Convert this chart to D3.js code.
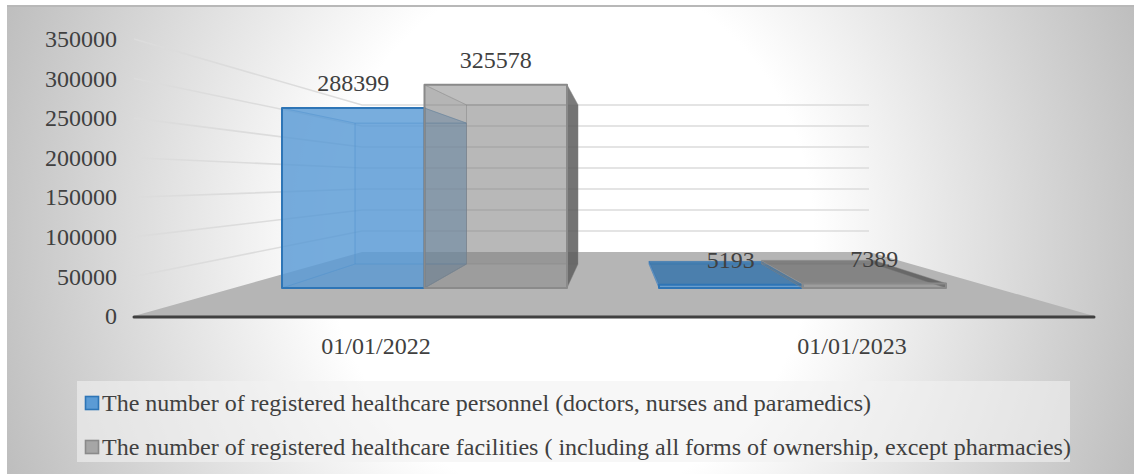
<!DOCTYPE html>
<html>
<head>
<meta charset="utf-8">
<script src="https://cdn.jsdelivr.net/npm/d3@7"></script>
<style>
  body { margin: 0; background: #fff; }
  text { font-family: "Liberation Serif", serif; fill: #404040; }
</style>
</head>
<body>
<div id="canvas"></div>
<script>
const categories = ['01/01/2022', '01/01/2023'];
const seriesNames = [
  'The number of registered healthcare personnel (doctors, nurses and paramedics)',
  'The number of registered healthcare facilities ( including all forms of ownership, except pharmacies)',
];
const personnel = [288399, 5193];
const facilities = [325578, 7389];
const yTicks = [0, 50000, 100000, 150000, 200000, 250000, 300000, 350000];

const width = 1134;
const height = 475;
const maxV = 350000;

const svg = d3
  .select('#canvas')
  .append('svg')
  .attr('width', width)
  .attr('height', height)
  .style('display', 'block');

const defs = svg.append('defs');
const bg = defs
  .append('radialGradient')
  .attr('id', 'bg')
  .attr('gradientUnits', 'userSpaceOnUse')
  .attr('cx', 0)
  .attr('cy', 0)
  .attr('r', 1)
  .attr('gradientTransform', 'translate(570, 235) scale(640, 700)');
bg.append('stop').attr('offset', '38%').attr('stop-color', '#ffffff');
bg.append('stop').attr('offset', '100%').attr('stop-color', '#b7b7b7');

svg
  .append('rect')
  .attr('x', 7)
  .attr('y', 6)
  .attr('width', 1127)
  .attr('height', 468)
  .attr('fill', 'url(#bg)');
svg
  .append('line')
  .attr('x1', 7)
  .attr('x2', 1134)
  .attr('y1', 6)
  .attr('y2', 6)
  .attr('stroke', '#b8b8b8')
  .attr('stroke-width', 2);

// 앞면, 뒷면 스케일 (3D 원근)
const wallFront = d3.scaleLinear().domain([0, maxV]).range([316, 39]);
const wallBack = d3.scaleLinear().domain([0, maxV]).range([252, 105]);
const barFront = d3.scaleLinear().domain([0, maxV]).range([288, 69.6]);
const barBack = d3.scaleLinear().domain([0, maxV]).range([264, 93]);

const floorX = { frontL: 134, frontR: 1094, backL: 362, backR: 869 };

const polyPath = d3.line();

// floor
svg
  .append('path')
  .attr(
    'd',
    polyPath([
      [floorX.frontL, wallFront(0)],
      [floorX.frontR, wallFront(0)],
      [floorX.backR, wallBack(0)],
      [floorX.backL, wallBack(0)],
    ]) + 'Z'
  )
  .attr('fill', '#b5b5b5');

// gridlines
svg
  .selectAll('.grid')
  .data(yTicks.slice(1))
  .enter()
  .append('path')
  .attr('class', 'grid')
  .attr('d', d =>
    polyPath([
      [floorX.frontL, wallFront(d)],
      [floorX.backL, wallBack(d)],
      [floorX.backR, wallBack(d)],
    ])
  )
  .attr('fill', 'none')
  .attr('stroke', '#dcdcdc')
  .attr('stroke-width', 1.6);

// y axis labels
const yAxis = d3
  .axisLeft(wallFront)
  .tickValues(yTicks)
  .tickSize(0)
  .tickPadding(0)
  .tickFormat(d3.format('d'));
const yAxisGroup = svg
  .append('g')
  .attr('transform', 'translate(117, 0)')
  .call(yAxis);
yAxisGroup.select('.domain').remove();
yAxisGroup
  .selectAll('text')
  .style('font-family', '"Liberation Serif", serif')
  .style('font-size', '24px')
  .style('fill', '#404040');

// bars
const frontBands = [
  d3.scaleBand().domain([0, 1]).range([282, 567]),
  d3.scaleBand().domain([0, 1]).range([659, 946]),
];
const backBands = [
  d3.scaleBand().domain([0, 1]).range([355, 578]),
  d3.scaleBand().domain([0, 1]).range([649, 874]),
];

const seriesStyle = [
  {
    edge: '#2e75b6',
    shortTop: ['#2e6fa8', 0.7],
    faces: { back: ['#5b9bd5', 0.5], left: ['#5b9bd5', 0.45], right: ['#5b9bd5', 0.2], bottom: ['#3f7fbd', 0.3], top: ['#5b9bd5', 0.4], front: ['#5b9bd5', 0.7] },
  },
  {
    edge: '#8a8a8a',
    shortTop: ['#666666', 0.6],
    faces: { back: ['#7f7f7f', 0.27], left: ['#6f6f6f', 0.28], right: ['#5a5a5a', 0.8], bottom: ['#7f7f7f', 0.06], top: ['#7f7f7f', 0.2], front: ['#7f7f7f', 0.38] },
  },
];

const barData = [];
categories.forEach((c, ci) => {
  [personnel, facilities].forEach((values, si) => {
    barData.push({ ci, si, value: values[ci] });
  });
});

function barFaces(d) {
  const f = frontBands[d.ci];
  const b = backBands[d.ci];
  const fl = f(d.si);
  const fr = fl + f.bandwidth();
  const bl = b(d.si);
  const br = bl + b.bandwidth();
  const y0f = barFront(0);
  const y1f = barFront(d.value);
  const y0b = barBack(0);
  const y1b = barBack(d.value);
  return [
    ['back', [[bl, y1b], [br, y1b], [br, y0b], [bl, y0b]]],
    ['bottom', [[fl, y0f], [fr, y0f], [br, y0b], [bl, y0b]]],
    ['left', [[fl, y1f], [bl, y1b], [bl, y0b], [fl, y0f]]],
    ['right', [[fr, y1f], [br, y1b], [br, y0b], [fr, y0f]]],
    ['top', [[fl, y1f], [fr, y1f], [br, y1b], [bl, y1b]]],
    ['front', [[fl, y1f], [fr, y1f], [fr, y0f], [fl, y0f]]],
  ];
}

// 낮은 막대는 윗면이 바닥 위에 놓여서 더 어둡게 보인다
function faceStyle(d) {
  const style = seriesStyle[d.si];
  if (d.name === 'top' && d.value < 50000) return style.shortTop;
  return style.faces[d.name];
}

const barGroups = svg
  .selectAll('.bar')
  .data(barData)
  .enter()
  .append('g')
  .attr('class', 'bar');

barGroups
  .selectAll('path')
  .data(d => barFaces(d).map(face => ({ name: face[0], pts: face[1], si: d.si, value: d.value })))
  .enter()
  .append('path')
  .attr('d', d => polyPath(d.pts) + 'Z')
  .attr('fill', d => faceStyle(d)[0])
  .attr('fill-opacity', d => faceStyle(d)[1])
  .attr('stroke', d => seriesStyle[d.si].edge)
  .attr('stroke-opacity', d => (d.name === 'front' ? 1 : 0.3))
  .attr('stroke-width', d => (d.name === 'front' ? 2 : 1))
  .attr('stroke-linejoin', 'round');

// data labels
svg
  .selectAll('.value')
  .data(barData)
  .enter()
  .append('text')
  .attr('class', 'value')
  .attr('x', d => frontBands[d.ci](d.si) + frontBands[d.ci].bandwidth() / 2)
  .attr('y', d => barFront(d.value) - 25)
  .attr('dy', '0.35em')
  .attr('text-anchor', 'middle')
  .style('font-size', '24px')
  .text(d => d.value);

// x axis line
svg
  .append('line')
  .attr('x1', floorX.frontL)
  .attr('x2', floorX.frontR)
  .attr('y1', 317)
  .attr('y2', 317)
  .attr('stroke', '#404040')
  .attr('stroke-width', 3)
  .attr('stroke-linecap', 'round');

// category labels
const xCat = d3.scalePoint().domain(categories).range([376, 852]);
svg
  .selectAll('.cat')
  .data(categories)
  .enter()
  .append('text')
  .attr('class', 'cat')
  .attr('x', d => xCat(d))
  .attr('y', 346)
  .attr('dy', '0.35em')
  .attr('text-anchor', 'middle')
  .style('font-size', '24px')
  .text(d => d);

// legend
svg
  .append('rect')
  .attr('x', 77)
  .attr('y', 381)
  .attr('width', 993)
  .attr('height', 81)
  .attr('fill', '#f2f2f2')
  .attr('fill-opacity', 0.6);

const legend = svg
  .selectAll('.legend')
  .data(seriesNames)
  .enter()
  .append('g')
  .attr('class', 'legend')
  .attr('transform', (d, i) => `translate(85, ${403 + i * 44})`);

legend
  .append('rect')
  .attr('x', 0.5)
  .attr('y', -6.5)
  .attr('width', 13)
  .attr('height', 13)
  .attr('fill', (d, i) => (i === 0 ? '#5b9bd5' : '#a6a6a6'))
  .attr('stroke', (d, i) => seriesStyle[i].edge)
  .attr('stroke-width', 1.6);

legend
  .append('text')
  .attr('x', 17)
  .attr('dy', '0.35em')
  .style('font-size', '24px')
  .text(d => d);
</script>
</body>
</html>
